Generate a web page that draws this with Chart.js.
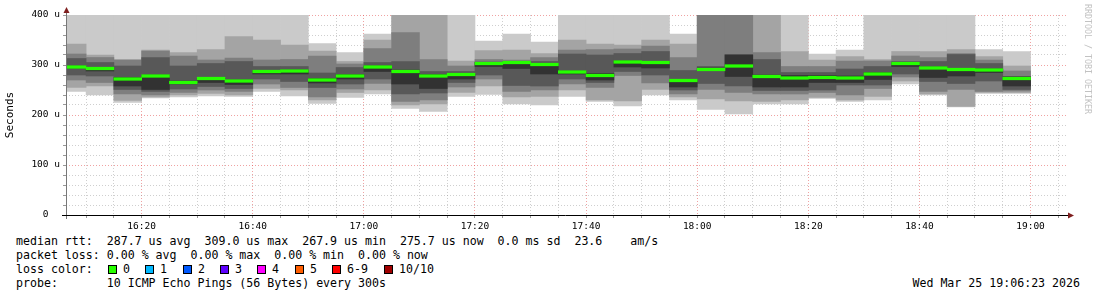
<!DOCTYPE html>
<html>
<head>
<meta charset="utf-8">
<title>smokeping</title>
<script src="https://cdn.jsdelivr.net/npm/chart.js@4.4.1/dist/chart.umd.min.js"></script>
<style>
  html, body { margin: 0; padding: 0; background: #fff; }
  body { width: 1097px; height: 297px; position: relative; overflow: hidden; font-family: "DejaVu Sans Mono", monospace; color: #000; }
  #chartBox { position: absolute; left: 0; top: 0; width: 1097px; height: 232px; }
  #legend { position: absolute; left: 16px; top: 234px; width: 1070px; font-size: 11.6px; line-height: 14px; }
  #legend .row { position: relative; height: 14px; white-space: pre; }
  .lc { position: absolute; top: 0; }
  .lc i { position: absolute; top: 2.5px; left: 0; width: 7px; height: 7px; border: 1px solid #000; }
  .lc b { position: absolute; top: 0; left: 15px; font-weight: normal; }
  #stamp { position: absolute; right: 6px; top: 0; }
  #mark { position: absolute; left: 1083px; top: 4px; font-size: 8.3px; color: #c2c2c2; writing-mode: vertical-rl; white-space: pre; }
</style>
</head>
<body>
<div id="chartBox"><canvas id="pingChart"></canvas></div>
<div id="mark">RRDTOOL / TOBI OETIKER</div>
<div id="legend"><div class="row">median rtt:  287.7 us avg  309.0 us max  267.9 us min  275.7 us now  0.0 ms sd  23.6    am/s</div><div class="row">packet loss: 0.00 % avg  0.00 % max  0.00 % min  0.00 % now</div><div class="row" id="lossRow">loss color:</div><div class="row">probe:       10 ICMP Echo Pings (56 Bytes) every 300s<span id="stamp">Wed Mar 25 19:06:23 2026</span></div></div>
<script>
// 5 minute bins, start time of each
var binStart = ['16:05','16:10','16:15','16:20','16:25','16:30','16:35','16:40','16:45','16:50','16:55',
  '17:00','17:05','17:10','17:15','17:20','17:25','17:30','17:35','17:40','17:45','17:50','17:55',
  '18:00','18:05','18:10','18:15','18:20','18:25','18:30','18:35','18:40','18:45','18:50','18:55'];
var viewStart = '16:06:23';
var viewEnd = '19:06:23';

// sorted ping times per bin (us), ping1 = fastest ... ping10 = slowest (values above 400 are off the top)
var ping1  = [247,240,225,234,236,238,237,247,238,223,235,242,213,207,237,241,222,220,237,227,218,240,230,211,202,222,222,233,227,230,262,240,216,243,243];
var ping2  = [255,258,229,236,240,243,240,253,250,230,245,250,220,222,245,258,236,237,250,230,228,251,236,232,228,227,230,235,230,237,268,242,217,245,245];
var ping3  = [270,265,242,240,245,250,247,262,255,236,252,263,227,230,256,272,247,250,262,255,279,264,242,251,245,242,242,245,240,253,276,247,251,247,248];
var ping4  = [280,278,251,247,252,257,253,272,267,255,262,272,242,244,265,280,259,258,272,265,287,280,250,263,258,249,249,250,260,260,282,267,263,268,251];
var ping5  = [294,288,258,251,262,265,261,282,282,264,272,287,262,253,272,297,293,282,282,270,296,294,256,289,277,256,256,265,265,271,297,275,278,285,258];
var ping6  = [298,295,275,280,268,274,270,289,290,273,281,298,290,281,282,305,302,303,288,283,308,306,271,294,320,280,279,279,278,285,305,296,292,292,276];
var ping7  = [313,305,298,315,298,303,307,297,297,284,295,305,307,287,287,306,307,307,322,320,323,327,289,297,321,311,285,285,292,297,307,307,321,303,277];
var ping8  = [322,315,310,328,318,310,314,310,311,318,302,333,365,311,298,311,310,315,330,331,332,338,315,420,420,325,297,297,308,308,318,315,323,310,288];
var ping9  = [342,320,311,330,325,331,357,350,340,328,307,350,420,420,308,329,330,323,350,342,340,350,342,425,425,420,327,310,317,311,327,327,331,317,298];
var ping10 = [430,430,430,430,430,430,430,430,430,343,325,362,430,430,430,348,362,346,430,430,430,430,362,430,430,430,430,322,330,430,430,430,430,331,327];
var median = [296,293,272,278,265,273,268,287,288,270,278,296,287,278,281,303,305,301,286,279,306,305,269,291,298,277,274,275,274,282,303,294,291,290,273];

var yTicks = [0, 100, 200, 300, 400];
var lossLabels = ['0','1','2','3','4','5','6-9','10/10'];
var lossColors = ['#26ff00','#00b8ff','#0059ff','#5e00ff','#ff00ff','#ff5e00','#ff0000','#a00000'];

var smokeShades = ['#cacaca','#a4a4a4','#7e7e7e','#585858','#323232'];
var medianColor = '#26ff00';
var gridMinor = 'rgba(140,140,140,0.42)';
var gridMajor = 'rgba(225,70,70,0.5)';
var arrowColor = '#7f1f1f';
var monoFont = '"DejaVu Sans Mono", monospace';

function toMin(s) {
  var p = s.split(':');
  return (+p[0]) * 60 + (+p[1]) + (p[2] ? +p[2] / 60 : 0);
}
function hhmm(v) {
  var h = Math.floor(v / 60), m = Math.round(v % 60);
  return (h < 10 ? '0' : '') + h + ':' + (m < 10 ? '0' : '') + m;
}

var pings = [ping1, ping2, ping3, ping4, ping5, ping6, ping7, ping8, ping9, ping10];
var centers = binStart.map(function (s) { return toMin(s) + 2.5; });

var datasets = [];
// outer pair first (lightest), inner pairs on top (darker)
smokeShades.forEach(function (shade, i) {
  var lo = pings[i], hi = pings[9 - i];
  datasets.push({
    label: 'smoke' + (i + 1),
    data: centers.map(function (x, k) { return { x: x, y: [lo[k], hi[k]] }; }),
    backgroundColor: shade,
    order: 10 - i
  });
});
var medHalf = 2.6;
datasets.push({
  label: 'median',
  data: centers.map(function (x, k) { return { x: x, y: [median[k] - medHalf, median[k] + medHalf] }; }),
  backgroundColor: medianColor,
  order: 0
});
datasets.forEach(function (d) {
  d.borderWidth = 0;
  d.barPercentage = 1;
  d.categoryPercentage = 1;
  d.grouped = false;
  d.clip = 0;
});

var axisArrows = {
  id: 'axisArrows',
  afterDraw: function (chart) {
    var ctx = chart.ctx, a = chart.chartArea;
    ctx.save();
    ctx.lineWidth = 1;
    ctx.strokeStyle = '#777';
    ctx.beginPath();
    ctx.moveTo(a.left + 0.5, a.bottom + 4);
    ctx.lineTo(a.left + 0.5, a.top - 4);
    ctx.stroke();
    ctx.strokeStyle = '#000';
    ctx.beginPath();
    ctx.moveTo(a.left - 4, a.bottom + 0.5);
    ctx.lineTo(a.right + 3, a.bottom + 0.5);
    ctx.stroke();
    ctx.fillStyle = arrowColor;
    ctx.beginPath();
    ctx.moveTo(a.left + 0.5, a.top - 8);
    ctx.lineTo(a.left + 3.5, a.top - 2);
    ctx.lineTo(a.left - 2.5, a.top - 2);
    ctx.closePath();
    ctx.fill();
    ctx.beginPath();
    ctx.moveTo(a.right + 8, a.bottom + 0.5);
    ctx.lineTo(a.right + 2, a.bottom - 2.5);
    ctx.lineTo(a.right + 2, a.bottom + 3.5);
    ctx.closePath();
    ctx.fill();
    ctx.restore();
  }
};

// grid every 5 minutes on whole clock times
function fiveMinuteTicks(scale) {
  var t = [];
  for (var v = Math.ceil(scale.min / 5) * 5; v <= scale.max; v += 5) t.push({ value: v });
  scale.ticks = t;
}

var ctx = document.getElementById('pingChart').getContext('2d');
var pingChart = new Chart(ctx, {
  type: 'bar',
  data: { datasets: datasets },
  plugins: [axisArrows],
  options: {
    responsive: true,
    maintainAspectRatio: false,
    animation: false,
    events: [],
    layout: { padding: { left: 0, right: 31, top: 15, bottom: 2 } },
    plugins: {
      legend: { display: false },
      tooltip: { enabled: false }
    },
    scales: {
      x: {
        type: 'linear',
        min: toMin(viewStart),
        max: toMin(viewEnd),
        offset: false,
        z: 1,
        afterBuildTicks: fiveMinuteTicks,
        afterFit: function (scale) { scale.height = 15; },
        grid: {
          offset: false,
          color: function (c) { return c.tick && c.tick.value % 20 === 0 ? gridMajor : gridMinor; },
          tickColor: '#999',
          tickLength: 3,
          tickBorderDash: []
        },
        border: { display: false, dash: [1, 2] },
        ticks: {
          autoSkip: false,
          maxRotation: 0,
          minRotation: 0,
          padding: 3,
          color: '#000',
          font: { family: monoFont, size: 9.5 },
          callback: function (v) { return v % 20 === 0 ? hhmm(v) : ''; }
        }
      },
      y: {
        min: 0,
        max: 400,
        z: 1,
        afterFit: function (scale) { scale.width = 66; },
        grid: {
          color: function (c) { return c.tick && yTicks.indexOf(c.tick.value) >= 0 ? gridMajor : gridMinor; },
          tickColor: '#999',
          tickLength: 3,
          tickBorderDash: []
        },
        border: { display: false, dash: [1, 2] },
        ticks: {
          stepSize: 20,
          autoSkip: false,
          padding: 3,
          color: '#000',
          font: { family: monoFont, size: 9.5 },
          callback: function (v) {
            if (v === 0) return '0  ';
            return yTicks.indexOf(v) >= 0 ? v + ' u' : '';
          }
        },
        title: {
          display: true,
          text: 'Seconds',
          color: '#000',
          padding: { top: 4, bottom: 0 },
          font: { family: monoFont, size: 11 }
        }
      }
    }
  }
});

// loss colour legend
var lossRow = document.getElementById('lossRow');
var lossX = [92, 129, 167, 204, 241, 279, 316, 368];
lossLabels.forEach(function (lbl, i) {
  var s = document.createElement('span');
  s.className = 'lc';
  s.style.left = lossX[i] + 'px';
  s.innerHTML = '<i style="background:' + lossColors[i] + '"></i><b>' + lbl + '</b>';
  lossRow.appendChild(s);
});
</script>
</body>
</html>
